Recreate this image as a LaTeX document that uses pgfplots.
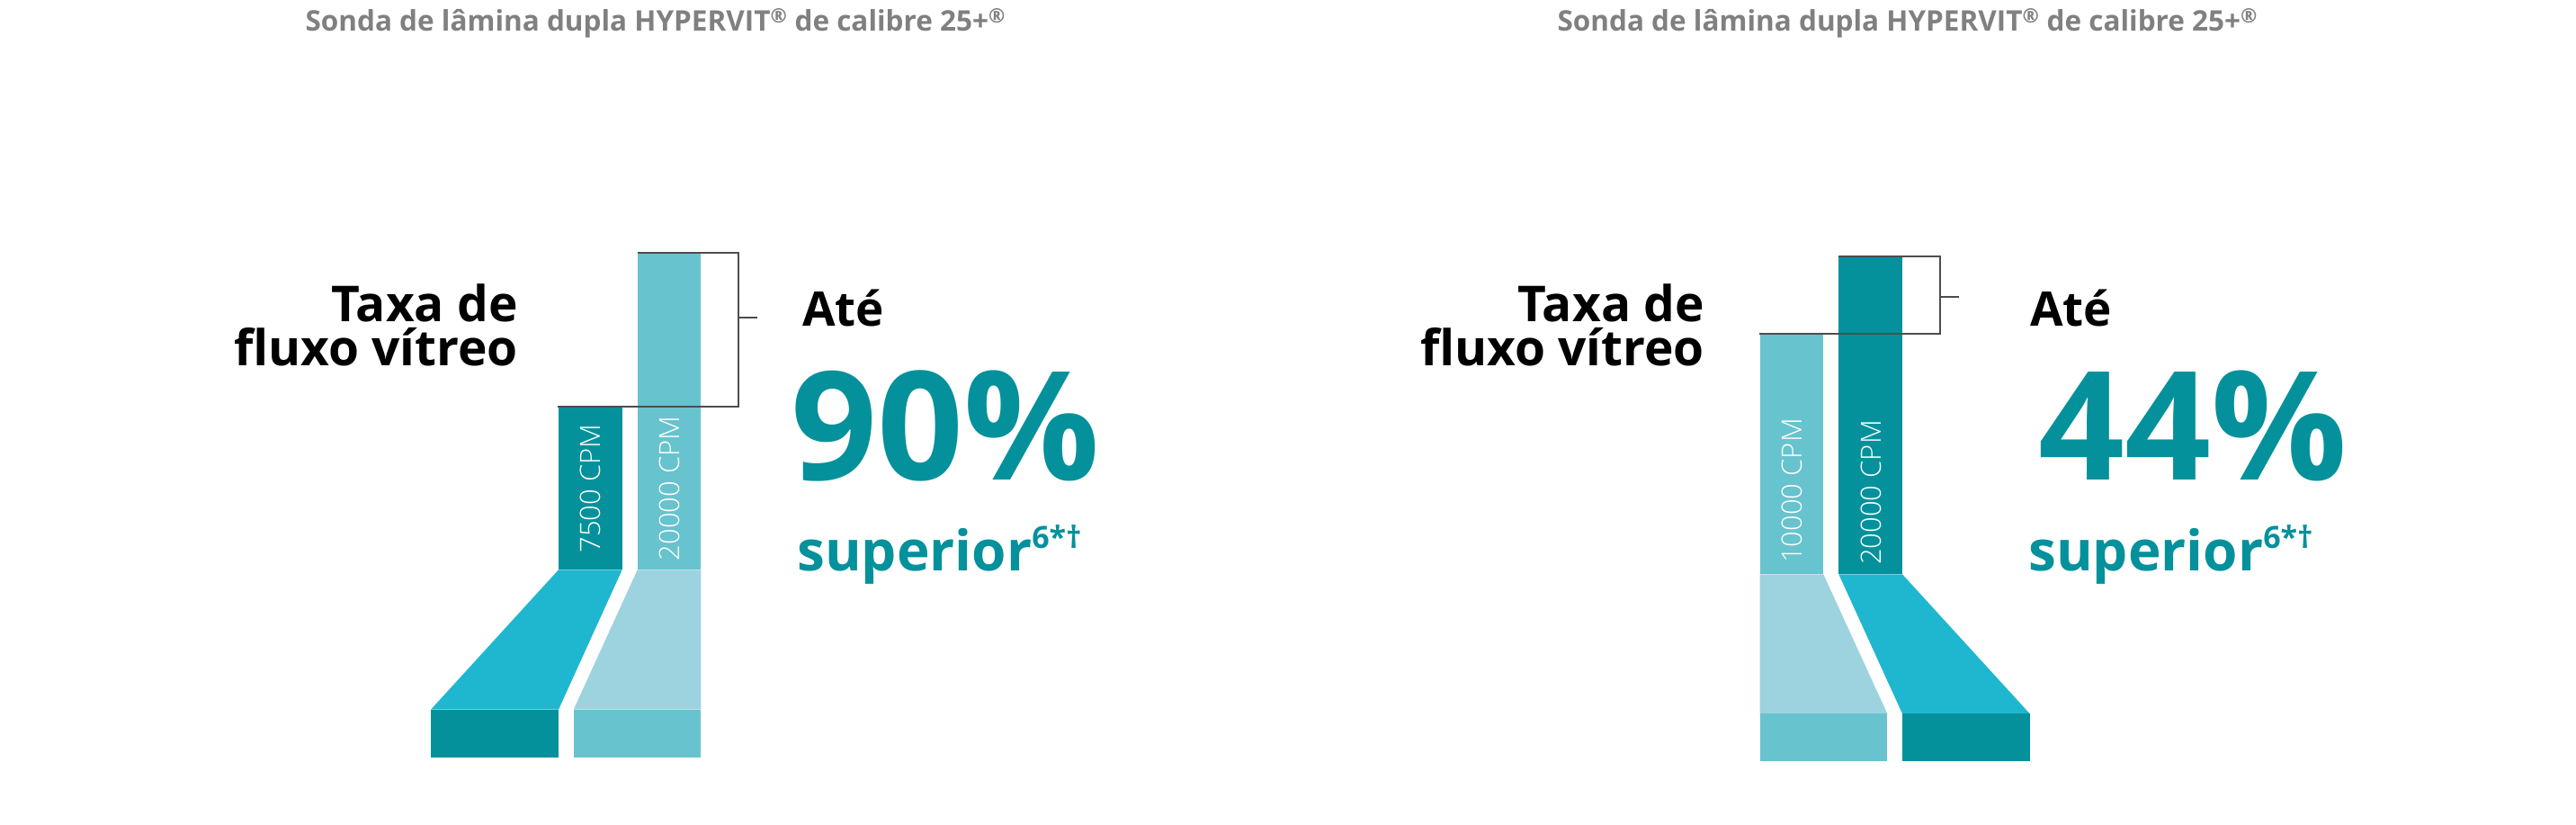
\documentclass[border=0pt]{standalone}
\usepackage{fontspec}
\setmainfont{Open Sans}
\newfontfamily\lightfont{Open Sans Light}
\usepackage{pgfplots}
\pgfplotsset{compat=1.18}

\definecolor{tealdark}{RGB}{4,145,155}
\definecolor{tealmid}{RGB}{103,195,206}
\definecolor{cyanbar}{RGB}{31,183,207}
\definecolor{lightbar}{RGB}{157,211,223}
\definecolor{titlegray}{RGB}{128,128,128}
\definecolor{bracket}{RGB}{77,77,77}

% one unit = one pixel of the 2864x917 reference, y measured from the top
\begin{document}
\begin{tikzpicture}
\begin{axis}[
  scale only axis, width=2864pt, height=917pt,
  xmin=0, xmax=2864, ymin=0, ymax=917, y dir=reverse,
  hide axis, clip=false,
  every node/.style={inner sep=0pt},
]
\path (axis cs:0,0) rectangle (axis cs:2864,917);

% ---- left panel: 7500 vs 20000 CPM
\addplot[fill=tealdark, draw=none] coordinates {(621,452) (691.7,452) (691.7,633.3) (621,633.3)} -- cycle;
\addplot[fill=tealmid, draw=none] coordinates {(708.7,280.7) (779.3,280.7) (779.3,633.3) (708.7,633.3)} -- cycle;
\addplot[fill=cyanbar, draw=none] coordinates {(621,633.3) (691.7,633.3) (621,788.7) (479,788.7)} -- cycle;
\addplot[fill=tealdark, draw=none] coordinates {(479,788.7) (621,788.7) (621,841.7) (479,841.7)} -- cycle;
\addplot[fill=lightbar, draw=none] coordinates {(708.7,633.3) (779.3,633.3) (779.3,788.7) (637.7,788.7)} -- cycle;
\addplot[fill=tealmid, draw=none] coordinates {(637.7,788.7) (779.3,788.7) (779.3,841.7) (637.7,841.7)} -- cycle;
\addplot[bracket, line width=2pt] coordinates {(620.3,452) (820.7,452) (820.7,280.7) (709,280.7)};
\addplot[bracket, line width=2pt] coordinates {(820.7,353) (841.7,353)};

% ---- right panel: 10000 vs 20000 CPM
\addplot[fill=tealmid, draw=none] coordinates {(1956.7,370.7) (2027.3,370.7) (2027.3,638.3) (1956.7,638.3)} -- cycle;
\addplot[fill=tealdark, draw=none] coordinates {(2044.3,285) (2115,285) (2115,638.3) (2044.3,638.3)} -- cycle;
\addplot[fill=lightbar, draw=none] coordinates {(1956.7,638.3) (2027.3,638.3) (2098.3,793.3) (1956.7,793.3)} -- cycle;
\addplot[fill=tealmid, draw=none] coordinates {(1956.7,793.3) (2098.3,793.3) (2098.3,846) (1956.7,846)} -- cycle;
\addplot[fill=cyanbar, draw=none] coordinates {(2044.3,638.3) (2115,638.3) (2256.7,793.3) (2115,793.3)} -- cycle;
\addplot[fill=tealdark, draw=none] coordinates {(2115,793.3) (2256.7,793.3) (2256.7,846) (2115,846)} -- cycle;
\addplot[bracket, line width=2pt] coordinates {(1956,370.7) (2156.7,370.7) (2156.7,285) (2044.3,285)};
\addplot[bracket, line width=2pt] coordinates {(2156.7,330) (2178.3,330)};

% ---- bar labels
\begin{scope}[every node/.style={inner sep=0pt, rotate=90, text=white,
    font=\lightfont\fontsize{31}{31}\selectfont}]
\node at (axis cs:656.5,543) {7500 CPM};
\node at (axis cs:744,543) {20000 CPM};
\node at (axis cs:1992,545.5) {10000 CPM};
\node at (axis cs:2080,547.5) {20000 CPM};
\end{scope}

% ---- titles
\node[anchor=base west, text=titlegray, font=\bfseries\fontsize{31.5}{31.5}\selectfont]
  at (axis cs:336,34.3) {Sonda de lâmina dupla HYPERVIT\textsuperscript{®} de calibre 25+\textsuperscript{®}};
\node[anchor=base west, text=titlegray, font=\bfseries\fontsize{31.5}{31.5}\selectfont]
  at (axis cs:1728,34.3) {Sonda de lâmina dupla HYPERVIT\textsuperscript{®} de calibre 25+\textsuperscript{®}};

% ---- captions (two lines in one node)
\begin{scope}[every node/.style={inner sep=0pt, align=right,
    font=\bfseries\fontsize{55}{49}\selectfont}]
\node[anchor=south east] at (axis cs:576,407) {Taxa de\\fluxo vítreo};
\node[anchor=south east] at (axis cs:1895,407) {Taxa de\\fluxo vítreo};
\end{scope}
\begin{scope}[every node/.style={inner sep=0pt, font=\bfseries\fontsize{53}{53}\selectfont}]
\node[anchor=base west] at (axis cs:892,362.3) {Até};
\node[anchor=base west] at (axis cs:2257,362.3) {Até};
\end{scope}

\begin{scope}[every node/.style={inner sep=0pt, text=tealdark}]
\node[anchor=base west, font=\bfseries\fontsize{168}{168}\selectfont] at (axis cs:879,533.5) {90\%};
\node[anchor=base west, font=\bfseries\fontsize{168}{168}\selectfont] at (axis cs:2266,533.5) {44\%};
\node[anchor=base west, font=\bfseries\fontsize{62}{62}\selectfont] at (axis cs:886,634.3)
  {superior\raisebox{25pt}{\fontsize{34}{34}\selectfont 6*†}};
\node[anchor=base west, font=\bfseries\fontsize{62}{62}\selectfont] at (axis cs:2255,634.3)
  {superior\raisebox{25pt}{\fontsize{34}{34}\selectfont 6*†}};
\end{scope}
\end{axis}
\end{tikzpicture}
\end{document}
